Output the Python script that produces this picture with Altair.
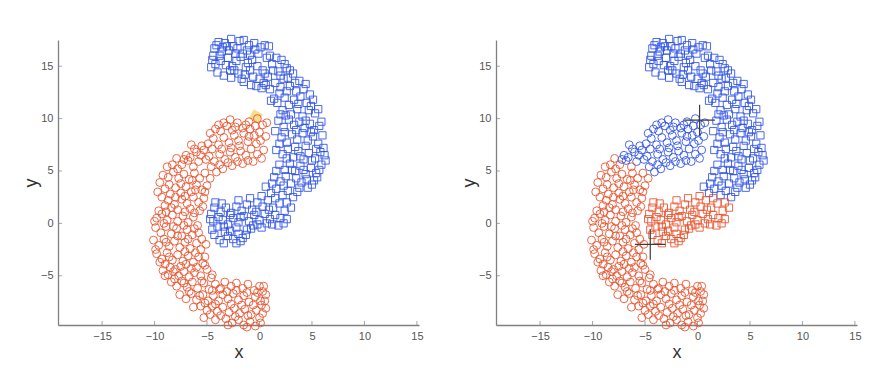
import altair as alt
import pandas as pd

# ---------------- data ----------------
# class "square" (upper crescent), grouped by region
sq_top = [(-4.4,16.0),(-4.2,15.2),(-3.9,17.3),(-3.6,16.4),(-3.3,17.2),(-3.0,15.8),(-2.8,14.6),(-2.5,16.9),
          (-2.2,15.5),(-1.9,17.4),(-1.6,16.2),(-1.3,14.9),(-1.0,17.0),(-0.7,15.6),(-0.4,16.6),(-4.5,15.6),
          (-4.0,14.4),(-3.7,15.5),(-3.4,14.1),(-3.1,16.9),(-2.6,15.0),(-2.3,16.2),(-2.0,14.3),(-1.8,15.9),
          (-1.5,17.5),(-1.1,15.3),(-0.9,16.1),(-0.5,17.2),(-0.2,15.0),(0.1,16.8),(0.3,14.6),(0.5,17.0),
          (0.7,15.8),(-4.3,16.7),(-3.8,16.0),(-2.9,16.5),(-2.4,14.6),(-1.4,14.2),(-0.6,14.0),(0.0,13.8),
          (-0.3,13.1),(0.4,13.4)]
sq_bend = [(0.8,14.0),(1.2,15.2),(1.5,13.4),(1.8,14.5),(2.1,15.6),(2.3,13.8),(2.6,14.8),(2.9,13.1),
           (3.2,14.3),(3.5,12.6),(3.8,13.6),(1.0,12.8),(1.4,11.9),(1.9,12.4),(2.4,12.0),(2.8,11.3),
           (3.3,11.8),(3.9,12.1),(4.2,12.8),(4.5,11.5),(4.8,12.3),(5.1,11.8),(0.6,13.2),(1.7,11.5),
           (2.2,10.8),(3.0,10.4),(3.6,10.9),(4.1,10.2),(4.7,10.8),(5.3,10.5),(-1.5,13.5),(-0.8,13.2),
           (0.2,12.9),(2.7,13.9),(2.0,13.0),(1.0,16.0),(1.6,15.8),(2.4,15.2)]
sq_side = [(1.8,9.8),(2.3,9.2),(2.8,9.9),(3.3,9.4),(3.8,9.7),(4.3,9.1),(4.8,9.5),(5.2,8.9),(2.1,8.2),
           (2.6,7.7),(3.1,8.5),(3.6,8.0),(4.1,8.6),(4.6,7.9),(5.1,8.3),(5.6,7.6),(6.0,8.4),(1.6,7.0),
           (2.2,6.6),(2.7,7.1),(3.2,6.3),(3.7,6.9),(4.2,6.1),(4.7,6.7),(5.3,6.2),(5.8,6.8),(6.2,6.5),
           (1.9,5.6),(2.4,5.1),(2.9,5.7),(3.4,5.0),(3.9,5.5),(4.4,4.7),(4.9,5.3),(5.4,4.8),(5.9,5.6),
           (1.4,4.4),(2.0,4.0),(2.5,4.5),(3.0,3.8),(3.5,4.3),(4.0,3.9),(4.5,4.2),(5.0,3.7),(5.5,4.4),
           (1.5,8.8),(2.0,10.4),(5.7,9.3),(6.1,7.2)]
sq_bottom = [(0.6,3.5),(1.1,2.9),(1.6,3.3),(2.2,2.7),(2.7,3.1),(3.2,2.5),(3.6,3.0),(2.6,2.0),(3.0,1.5),
             (2.4,1.2),(1.9,1.9),(1.3,1.5),(0.8,2.2),(0.3,1.6),(-0.2,2.0),(-0.7,1.3),(-1.2,1.8),(-1.7,1.2),
             (-2.2,1.6),(-2.7,1.0),(-3.2,1.5),(-3.7,1.1),(-4.3,1.5),(-4.6,0.9),(-4.4,0.2),(-4.0,-0.3),
             (-3.5,0.3),(-3.0,-0.1),(-2.5,0.5),(-2.0,0.1),(-1.5,0.7),(-1.0,0.2),(-0.5,0.8),(0.0,0.3),
             (0.5,0.9),(1.0,0.4),(1.5,0.8),(2.0,0.5),(2.6,0.4),(-3.8,-1.6),(-3.0,-1.2),(-2.5,-1.5),
             (-2.0,-1.0),(-1.6,-1.4),(-1.2,-0.6),(-0.6,-0.2),(-4.5,-0.6),(-3.3,-0.8),(-2.2,-0.4),
             (-1.8,-1.7),(0.2,-0.4),(0.9,1.3),(1.8,-0.2),(-0.3,1.1)]
sq_extra = [(-4.1,17.0),(-3.5,16.8),(-2.7,17.6),(-2.1,16.7),(-1.2,16.5),(-0.1,16.2),(0.9,16.9),(-4.6,14.9),
            (-3.2,15.1),(-2.7,13.9),(-1.7,13.8),(-0.9,14.6),(0.5,14.3),(1.3,14.6),(2.0,14.1),(2.9,14.6),
            (3.4,13.4),(4.4,13.3),(4.9,11.2),(3.7,11.4),(2.6,12.6),(1.1,11.7),(2.5,10.3),(5.6,10.9),
            (4.4,9.8),(3.5,8.9),(2.4,8.7),(4.9,8.7),(5.9,9.7),(1.9,7.6),(3.4,7.3),(4.4,7.4),(5.4,7.1),
            (2.6,6.2),(3.9,6.4),(5.0,6.0),(6.3,6.0),(1.6,5.0),(3.1,5.1),(4.2,5.1),(5.7,5.1),(1.2,3.8),
            (2.3,3.6),(3.8,3.4),(4.6,3.4),(5.2,4.1),(0.2,2.6),(1.5,2.4),(-0.9,2.4),(-2.0,2.2),(-3.6,1.9),
            (-4.2,2.0),(-4.7,0.4),(-3.9,0.6),(-3.4,-0.3),(-2.8,0.8),(-1.8,0.6),(-0.8,-0.5),(-0.2,-0.1),
            (0.7,0.0),(1.2,-0.1),(2.3,0.0),(-2.8,-0.7),(-3.4,-1.9),(-2.2,-1.9),(-1.3,-1.1),(-4.3,-1.1)]

# class "circle" (lower crescent), grouped by region
ci_tip = [(0.3,9.4),(-0.4,9.3),(-1.0,9.7),(-1.6,9.1),(-2.1,9.6),(-2.6,8.9),(-3.1,9.3),(-3.7,8.8),(-4.2,9.0),
          (0.6,8.3),(0.1,7.9),(-0.5,8.4),(-1.1,7.8),(-1.5,8.6),(-2.0,7.9),(-2.4,8.4),(-2.9,7.7),(-3.4,8.2),
          (-3.9,7.5),(-4.4,8.1),(-4.9,7.6),(0.4,7.0),(-0.2,6.6),(-0.8,7.1),(-1.3,6.5),(-1.8,6.9),(-2.3,6.3),
          (-2.8,6.8),(-3.3,6.1),(-3.8,6.6),(-4.3,5.9),(-4.8,6.4),(-5.3,7.0),(-0.6,5.9),(-1.6,5.7),(-2.6,5.5),
          (-3.5,5.2),(-4.1,4.9),(-0.9,9.0),(-2.3,9.2),(-3.4,9.6),(0.0,8.7)]
ci_upper = [(-5.5,7.4),(-6.0,6.8),(-6.5,7.5),(-7.0,6.5),(-5.8,5.9),(-6.3,5.4),(-6.8,6.0),(-7.4,5.6),(-7.9,6.2),
            (-5.2,4.8),(-5.7,4.3),(-6.2,4.8),(-6.7,4.2),(-7.2,4.7),(-7.7,4.3),(-8.2,4.9),(-8.7,4.4),(-4.7,4.3),
            (-5.0,3.6),(-5.5,3.2),(-6.0,3.7),(-6.5,3.0),(-7.0,3.5),(-7.5,2.9),(-8.0,3.4),(-8.5,2.8),(-9.0,3.3),
            (-9.3,2.5),(-5.3,2.4),(-5.8,2.0),(-6.3,2.5),(-6.9,1.9),(-7.4,2.3),(-8.1,1.8),(-8.7,2.2),(-9.5,3.9),
            (-8.3,5.6),(-6.6,6.3)]
ci_left = [(-9.8,0.5),(-9.3,0.9),(-8.8,0.3),(-8.3,0.8),(-7.8,0.2),(-7.3,0.7),(-6.8,0.1),(-6.3,0.6),(-5.9,-0.2),
           (-9.9,-0.4),(-9.4,-0.9),(-8.9,-0.3),(-8.4,-1.0),(-7.9,-0.5),(-7.4,-1.2),(-6.9,-0.6),(-6.4,-1.1),
           (-5.8,-0.9),(-10.1,-1.6),(-9.6,-2.1),(-9.1,-1.5),(-8.6,-2.2),(-8.1,-1.7),(-7.6,-2.3),(-7.1,-1.8),
           (-6.6,-2.4),(-6.0,-1.9),(-5.6,-2.5),(-9.8,-2.9),(-9.3,-3.4),(-8.8,-2.8),(-8.3,-3.5),(-7.8,-3.0),
           (-7.3,-3.6),(-6.8,-3.1),(-6.3,-3.7),(-5.8,-3.2),(-5.4,-3.8),(-9.0,-3.9),(-8.5,-4.2),(-7.5,-4.1),
           (-6.5,-4.3),(-5.7,1.2),(-6.6,1.4),(-8.4,1.5),(-9.6,1.2)]
ci_bend = [(-9.2,-4.5),(-8.7,-4.9),(-8.2,-4.6),(-7.7,-5.0),(-7.2,-4.6),(-6.7,-5.1),(-6.2,-4.7),(-5.6,-5.0),
           (-5.0,-4.4),(-4.5,-4.9),(-8.4,-5.6),(-7.9,-6.0),(-7.4,-5.5),(-6.9,-6.1),(-6.4,-5.6),(-5.9,-6.2),
           (-5.3,-5.7),(-4.8,-6.3),(-4.2,-5.8),(-3.7,-6.2),(-7.6,-6.8),(-7.0,-7.2),(-6.5,-6.7),(-6.0,-7.3),
           (-5.4,-6.8),(-4.9,-7.4),(-4.4,-6.9),(-3.9,-7.4),(-4.6,-5.2),(-5.2,-4.0)]
ci_bottom = [(-3.3,-5.6),(-2.7,-6.0),(-2.2,-5.7),(-1.6,-6.2),(-1.1,-5.8),(-0.5,-6.4),(0.0,-6.0),(0.3,-6.5),
             (-3.5,-6.8),(-3.0,-7.2),(-2.5,-6.7),(-2.0,-7.3),(-1.5,-6.9),(-1.0,-7.5),(-0.4,-7.0),(0.1,-7.4),
             (0.6,-6.8),(-5.6,-7.9),(-5.0,-8.3),(-4.5,-7.9),(-4.0,-8.4),(-3.5,-8.0),(-2.9,-8.5),(-2.4,-8.1),
             (-1.9,-8.6),(-1.4,-8.2),(-0.8,-8.7),(-0.3,-8.3),(0.3,-8.6),(0.6,-8.1),(-5.3,-9.0),(-4.2,-9.2),
             (-3.2,-9.1),(-2.6,-9.5),(-2.0,-9.2),(-1.5,-9.7),(-0.9,-9.4),(-0.4,-9.8),(0.2,-7.8),(-3.8,-6.3)]
ci_extra = [(0.7,9.6),(-0.2,10.0),(-1.3,9.4),(-2.8,9.9),(-3.9,9.4),(-4.7,8.6),(-0.3,7.6),(-1.0,8.3),(-1.9,7.4),
            (-2.7,7.2),(-3.6,7.1),(-4.5,7.1),(-5.1,6.1),(0.2,6.2),(-1.1,6.0),(-2.1,5.9),(-3.0,5.8),(-3.8,5.6),
            (-4.6,5.4),(-5.6,6.5),(-6.2,7.1),(-7.2,6.1),(-7.8,5.2),(-8.8,5.4),(-9.2,4.6),(-6.4,4.1),(-7.5,3.8),
            (-8.6,3.7),(-9.7,3.0),(-5.2,3.0),(-6.1,3.2),(-7.1,2.6),(-8.0,2.5),(-9.0,1.7),(-5.4,1.6),(-6.2,1.0),
            (-7.1,1.1),(-7.8,1.3),(-8.9,1.1),(-10.0,0.2),(-9.1,0.0),(-8.2,-0.3),(-7.2,-0.2),(-6.2,-0.5),
            (-5.5,-1.5),(-6.8,-1.5),(-7.8,-1.2),(-8.9,-1.8),(-9.9,-2.5),(-9.5,-3.7),(-8.6,-3.2),(-7.1,-2.7),
            (-6.1,-2.8),(-5.2,-3.2),(-5.1,-2.0),(-7.0,-3.9),(-8.0,-4.4),(-9.0,-5.0),(-6.0,-4.2),(-5.5,-5.5),
            (-7.2,-5.7),(-8.1,-5.3),(-6.7,-6.5),(-5.7,-6.9),(-4.5,-6.4),(-4.2,-7.7),(-5.2,-7.6),(-6.3,-8.0),
            (-3.1,-6.5),(-2.2,-6.4),(-1.2,-6.6),(-0.2,-6.6),(0.5,-7.4),(0.4,-6.0),(-2.7,-7.7),(-1.7,-7.8),
            (-0.6,-7.8),(-3.7,-8.8),(-2.3,-8.9),(-1.1,-8.8),(0.0,-9.0),(-4.7,-8.7),(-3.0,-9.7),(-1.2,-9.9),
            (0.1,-9.5)]

# k-means centroids shown in the right panel (cluster "blue", cluster "red")
centroid_x = [0.2, -4.5]
centroid_y = [9.85, -2.0]
centroid_cluster = ["blue", "red"]

# yellow highlight blob in the left panel
highlight_x = [-0.35]
highlight_y = [10.2]

x_ticks = [-15, -10, -5, 0, 5, 10, 15]
y_ticks = [-5, 0, 5, 10, 15]

# ---------------- build tables ----------------
rows = []
for grp in (sq_top, sq_bend, sq_side, sq_bottom, sq_extra):
    for px, py in grp:
        rows.append({"x": px, "y": py, "shape": "square", "cls": "blue"})
for grp in (ci_tip, ci_upper, ci_left, ci_bend, ci_bottom, ci_extra):
    for px, py in grp:
        rows.append({"x": px, "y": py, "shape": "circle", "cls": "red"})
pts = pd.DataFrame(rows)


def nearest(r):
    d = [(r["x"] - cx) ** 2 + (r["y"] - cy) ** 2 for cx, cy in zip(centroid_x, centroid_y)]
    return centroid_cluster[d.index(min(d))]


pts["cluster"] = pts.apply(nearest, axis=1)
cent = pd.DataFrame({"x": centroid_x, "y": centroid_y})
hl = pd.DataFrame({"x": highlight_x, "y": highlight_y})
xt = pd.DataFrame({"x": x_ticks})
yt = pd.DataFrame({"y": y_ticks})

RED = "#e8502a"
BLUE = "#2c50e6"
GRAY = "#808080"
W, H = 361, 285

xs = alt.Scale(domain=[-19.2, 15.2], nice=False, zero=False)
ys = alt.Scale(domain=[-9.7, 17.5], nice=False, zero=False)
xax = alt.Axis(values=x_ticks, title="x", grid=False, ticks=False, tickSize=0, labelPadding=5, titlePadding=2)
yax = alt.Axis(values=y_ticks, title="y", grid=False, ticks=False, tickSize=0, labelPadding=5, titlePadding=0)


def panel(color_field, with_centroids, with_highlight):
    layers = []
    if with_highlight:
        layers.append(
            alt.Chart(hl).mark_point(filled=True, shape="square", size=110, angle=30,
                                     color="#f2d470", opacity=0.8)
            .encode(x=alt.X("x:Q", scale=xs, axis=xax), y=alt.Y("y:Q", scale=ys, axis=yax))
        )
    layers.append(
        alt.Chart(pts).mark_point(filled=False, strokeWidth=1, opacity=0.85)
        .encode(
            x=alt.X("x:Q", scale=xs, axis=xax),
            y=alt.Y("y:Q", scale=ys, axis=yax),
            shape=alt.Shape("shape:N", scale=alt.Scale(domain=["circle", "square"], range=["circle", "square"]), legend=None),
            size=alt.Size("shape:N", scale=alt.Scale(domain=["circle", "square"], range=[62, 52]), legend=None),
            color=alt.Color(color_field + ":N", scale=alt.Scale(domain=["red", "blue"], range=[RED, BLUE]), legend=None),
        )
    )
    if with_centroids:
        layers.append(
            alt.Chart(cent).mark_point(filled=False, shape="M-1,0L1,0M0,-1L0,1", size=940,
                                       strokeWidth=1.2, color="#3c3c3c", opacity=1)
            .encode(x=alt.X("x:Q", scale=xs, axis=xax), y=alt.Y("y:Q", scale=ys, axis=yax))
        )
    # inward tick marks (MATLAB style)
    layers.append(
        alt.Chart(xt).mark_tick(orient="vertical", size=4, thickness=1, color=GRAY)
        .encode(x=alt.X("x:Q", scale=xs, axis=xax), y=alt.value(H - 2))
    )
    layers.append(
        alt.Chart(yt).mark_tick(orient="horizontal", size=4, thickness=1, color=GRAY)
        .encode(y=alt.Y("y:Q", scale=ys, axis=yax), x=alt.value(2))
    )
    return alt.layer(*layers).properties(width=W, height=H)


chart = alt.hconcat(
    panel("cls", False, True),
    panel("cluster", True, False),
    spacing=36,
).properties(
    padding={"left": 14, "top": 25, "right": 5, "bottom": 5},
    background="white",
).configure_view(stroke=None).configure_axis(
    domainColor=GRAY, domainWidth=1.3,
    labelFont="Liberation Sans", labelFontSize=11, labelColor="#555555",
    titleFont="Liberation Sans", titleFontSize=18, titleFontWeight="normal", titleColor="#333333",
)

chart.save("out.html", embed_options={"renderer": "svg", "actions": False})
